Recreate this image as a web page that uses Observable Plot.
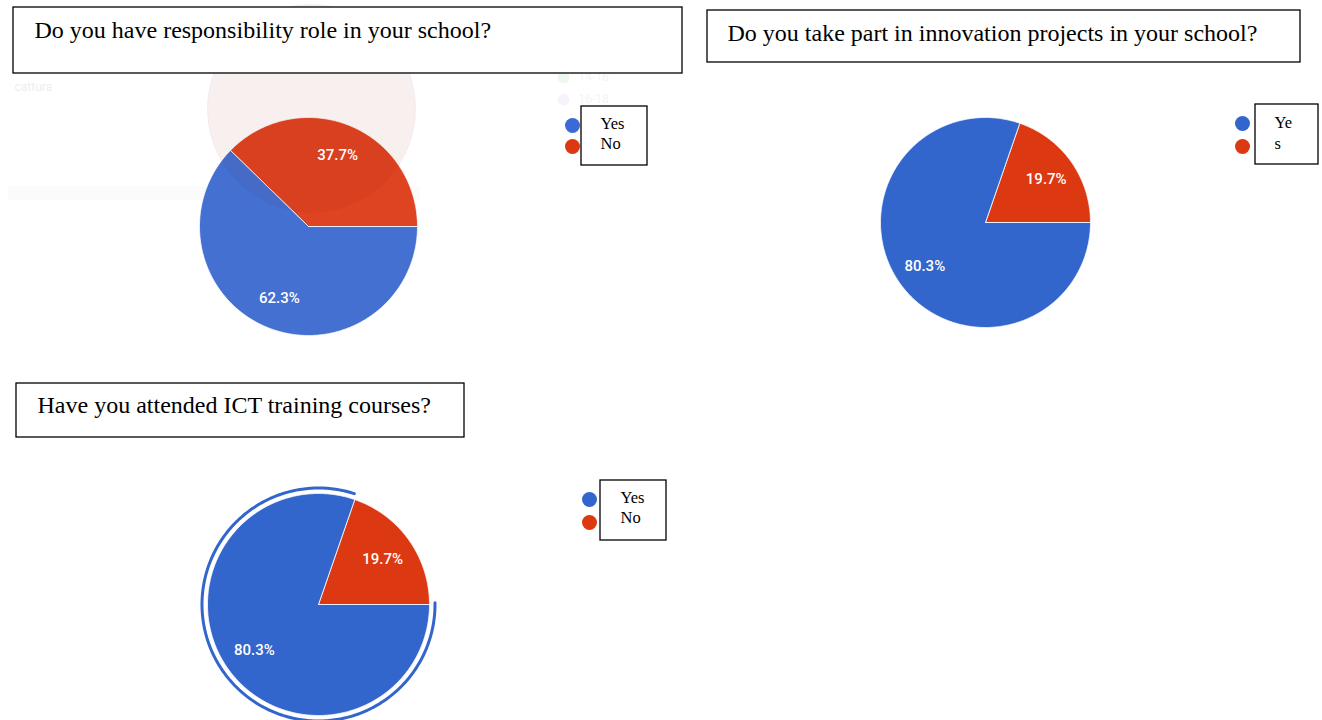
<!DOCTYPE html>
<html>
<head>
<meta charset="utf-8">
<script src="https://cdn.jsdelivr.net/npm/d3@7"></script>
<script src="https://cdn.jsdelivr.net/npm/@observablehq/plot@0.6"></script>
<style>
  html, body { margin: 0; padding: 0; background: #fff; }
  #chart { width: 1322px; height: 720px; }
</style>
</head>
<body>
<div id="chart"></div>
<script>
// ---- data ----
const questions = [
  "Do you have responsibility role in your school?",
  "Do you take part in innovation projects in your school?",
  "Have you attended ICT training courses?"
];
const answers = ["Yes", "No"];
const yesPct = [62.3, 80.3, 80.3];
const noPct = [37.7, 19.7, 19.7];
const legendLabels = [["Yes", "No"], ["Ye", "s"], ["Yes", "No"]];

// ---- layout (pixel positions within the 1322x720 canvas) ----
const layout = [
  {cx: 308, cy: 226, r: 109, box: [13, 7, 682, 73], tx: 34, ty: 30,
   leg: {box: [581, 106, 647, 165], dx: 572, dy: [125, 146], tx: 600, ty: [123, 143]},
   colors: ["#4370d1", "#de4322"], ring: false},
  {cx: 985, cy: 222, r: 105, box: [707, 10, 1300, 62], tx: 727, ty: 33,
   leg: {box: [1255, 104, 1318, 164], dx: 1242, dy: [123, 146], tx: 1274, ty: [122, 143]},
   colors: ["#3366cc", "#dc3912"], ring: false},
  {cx: 318, cy: 604, r: 111, box: [16, 383, 464, 437], tx: 37, ty: 405,
   leg: {box: [600, 480, 666, 540], dx: 589, dy: [499, 522], tx: 620, ty: [497, 517]},
   colors: ["#3366cc", "#dc3912"], ring: true}
];

// ---- build slice polygons from the values ----
const slices = [];
const labels = [];
const rings = [];
questions.forEach((q, i) => {
  const L = layout[i];
  const vals = [noPct[i], yesPct[i]];       // red first, starting at 3 o'clock, counter-clockwise
  const names = ["No", "Yes"];
  const cols = [L.colors[1], L.colors[0]];
  let start = 0;
  vals.forEach((v, k) => {
    const sweep = v / 100 * 2 * Math.PI;
    const end = start + sweep;
    const id = `p${i}-${names[k]}`;
    slices.push({id, x: L.cx, y: L.cy, fill: cols[k]});
    const n = Math.max(2, Math.ceil(sweep / (Math.PI / 360)));
    for (let j = 0; j <= n; j++) {
      const a = start + sweep * j / n;
      slices.push({id, x: L.cx + L.r * Math.cos(a), y: L.cy - L.r * Math.sin(a), fill: cols[k]});
    }
    slices.push({id, x: L.cx, y: L.cy, fill: cols[k]});
    const mid = (start + end) / 2;
    labels.push({x: L.cx + 0.71 * L.r * Math.cos(mid), y: L.cy - 0.71 * L.r * Math.sin(mid), text: v.toFixed(1) + "%"});
    if (L.ring && names[k] === "Yes") {
      const rr = L.r + 5.5;
      const s0 = start + 0.02, e0 = end + 0.015;
      const m = 300;
      for (let j = 0; j <= m; j++) {
        const a = s0 + (e0 - s0) * j / m;
        rings.push({x: L.cx + rr * Math.cos(a), y: L.cy - rr * Math.sin(a)});
      }
    }
    start = end;
  });
});

const boxes = layout.map((L, i) => ({x1: L.box[0], y1: L.box[1], x2: L.box[2], y2: L.box[3]}));
const titles = layout.map((L, i) => ({x: L.tx, y: L.ty, text: questions[i]}));
const legBoxes = layout.map(L => ({x1: L.leg.box[0], y1: L.leg.box[1], x2: L.leg.box[2], y2: L.leg.box[3]}));
const legDots = layout.flatMap((L, i) => answers.map((a, k) => ({x: L.leg.dx, y: L.leg.dy[k], fill: k === 0 ? (i === 0 ? "#3b6ad6" : "#3366cc") : "#dc3912"})));
const legTexts = layout.flatMap((L, i) => legendLabels[i].map((t, k) => ({x: L.leg.tx, y: L.leg.ty[k], text: t})));

// faint ghost of an underlying screenshot behind the first pie
const ghost = [];
for (let j = 0; j <= 360; j++) {
  const a = j / 180 * Math.PI;
  ghost.push({x: 311 + 104 * Math.cos(a), y: 108 - 104 * Math.sin(a)});
}

const chart = Plot.plot({
  width: 1322,
  height: 720,
  margin: 0,
  x: {domain: [0, 1322], range: [0, 1322], axis: null},
  y: {domain: [0, 720], range: [0, 720], axis: null},
  style: {background: "#fff"},
  marks: [
    // ghost band and circle (very faint)
    Plot.rect([{x1: 8, x2: 420, y1: 186, y2: 200}], {x1: "x1", x2: "x2", y1: "y1", y2: "y2", fill: "#eeeeee", fillOpacity: 0.25}),
    Plot.line(ghost, {x: "x", y: "y", fill: "#f6d9d0", fillOpacity: 0.07, stroke: "#f3e8f5", strokeOpacity: 0.5, strokeWidth: 1, curve: "linear"}),
    Plot.text([{x: 14, y: 87, text: "cattura"}], {x: "x", y: "y", text: "text", textAnchor: "start", fill: "#eeeeee", fontSize: 12, fontFamily: "Roboto, sans-serif"}),
    Plot.text([{x: 578, y: 77, text: "14-16"}, {x: 578, y: 99, text: "16-18"}], {x: "x", y: "y", text: "text", textAnchor: "start", fill: "#f2f6f2", fontSize: 12, fontFamily: "Roboto, sans-serif"}),
    Plot.dot([{x: 563, y: 77, c: "#eef8ee"}, {x: 563, y: 99, c: "#f8f2fa"}], {x: "x", y: "y", r: 6, fill: "c", stroke: null}),
    // pie slices
    Plot.line(slices, {x: "x", y: "y", z: "id", fill: "fill", stroke: "#ffffff", strokeWidth: 1, strokeOpacity: 0.8, curve: "linear"}),
    // darker overlap of the ghost circle on pie 1
    Plot.line(ghost, {x: "x", y: "y", fill: "#7a1a00", fillOpacity: 0.05, stroke: null, curve: "linear"}),
    // selection ring on pie 3
    Plot.line(rings, {x: "x", y: "y", stroke: "#3366cc", strokeWidth: 3, fill: "none", curve: "linear"}),
    // slice labels
    Plot.text(labels, {x: "x", y: "y", text: "text", fill: "#ffffff", fontSize: 15, fontWeight: 500, fontFamily: "Roboto, 'Liberation Sans', Arial, sans-serif"}),
    // title boxes
    Plot.rect(boxes, {x1: "x1", x2: "x2", y1: "y1", y2: "y2", fill: "#ffffff", stroke: "#000000", strokeWidth: 1.3}),
    Plot.text(titles, {x: "x", y: "y", text: "text", textAnchor: "start", fill: "#000", fontSize: 24, fontFamily: "'Liberation Serif', 'Times New Roman', serif"}),
    // legends
    Plot.dot(legDots, {x: "x", y: "y", r: 7.5, fill: "fill", stroke: null}),
    Plot.rect(legBoxes, {x1: "x1", x2: "x2", y1: "y1", y2: "y2", fill: "#ffffff", stroke: "#000000", strokeWidth: 1.3}),
    Plot.text(legTexts, {x: "x", y: "y", text: "text", textAnchor: "start", fill: "#000", fontSize: 16.5, fontFamily: "'Liberation Serif', 'Times New Roman', serif"})
  ]
});
document.getElementById("chart").appendChild(chart);
</script>
</body>
</html>
